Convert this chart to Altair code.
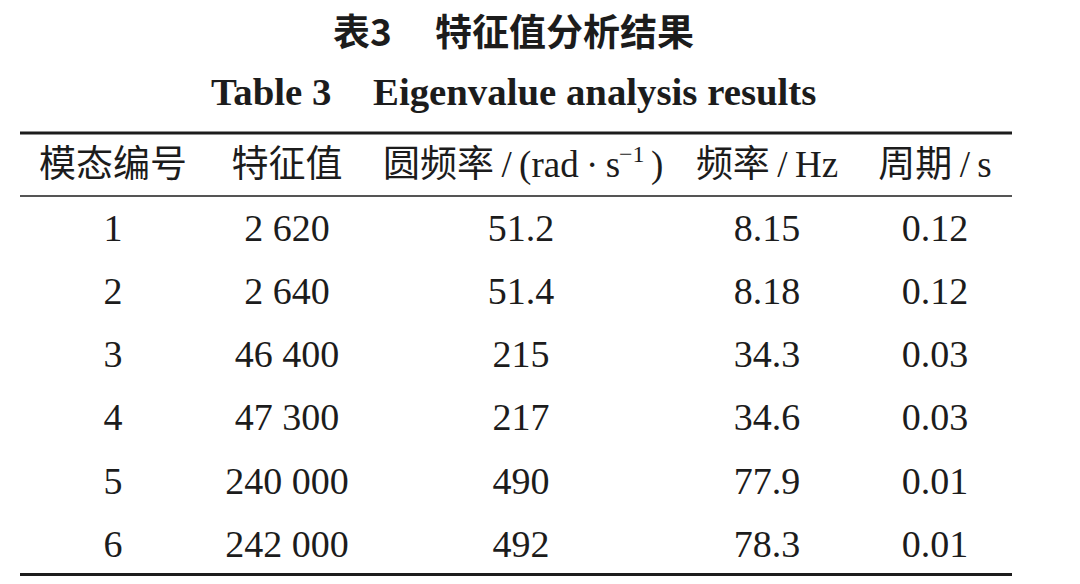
import altair as alt
import pandas as pd

# ---------------- data ----------------
title_cn = ["表3", "特征值分析结果"]
title_en = ["Table 3", "Eigenvalue analysis results"]
headers = ["模态编号", "特征值", "圆频率\u2009/\u2009(rad\u2009·\u2009s", "频率\u2009/\u2009Hz", "周期\u2009/\u2009s"]
header_sup = ["−1", ")"]
modes = [1, 2, 3, 4, 5, 6]
eigenvalues = [2620, 2640, 46400, 47300, 240000, 242000]
circular_freq = [51.2, 51.4, 215, 217, 490, 492]
frequency = [8.15, 8.18, 34.3, 34.6, 77.9, 78.3]
period = [0.12, 0.12, 0.03, 0.03, 0.01, 0.01]

# ---------------- layout (page pixels) ----------------
W, H = 1064, 568
COL_X = [113, 287, 521, 767, 935]
HEADER_Y = 166
ROW_Y = [230, 293, 356, 419, 483, 546]
RULE_X = (20, 1012)

SERIF = "Liberation Serif, Noto Sans CJK SC"
CJK = "Noto Sans CJK SC, Liberation Serif"
INK = "#1c1c1c"

xs = alt.Scale(domain=[8, 8 + W])
ys = alt.Scale(domain=[8, 8 + H], reverse=True)


def grp(n):
    return f"{n:,}".replace(",", " ")


cols = [
    [str(m) for m in modes],
    [grp(v) for v in eigenvalues],
    [str(v) for v in circular_freq],
    [str(v) for v in frequency],
    [f"{v:.2f}" for v in period],
]

cells = []
for ci, col in enumerate(cols):
    for ri, txt in enumerate(col):
        cells.append({"x": COL_X[ci], "y": ROW_Y[ri], "t": txt})
cells_df = pd.DataFrame(cells)

# header: centred cells, except the third which is assembled from pieces
head_df = pd.DataFrame({
    "x": [COL_X[0], COL_X[1], COL_X[3], COL_X[4]],
    "y": [HEADER_Y] * 4,
    "t": [headers[0], headers[1], headers[3], headers[4]],
})
head3_df = pd.DataFrame({"x": [383], "y": [HEADER_Y], "t": [headers[2]]})
sup_df = pd.DataFrame({"x": [619], "y": [155], "t": [header_sup[0]]})
paren_df = pd.DataFrame({"x": [651], "y": [HEADER_Y], "t": [header_sup[1]]})

tcn_df = pd.DataFrame({"x": [333, 435], "y": [35, 35], "t": title_cn})
ten_df = pd.DataFrame({"x": [211, 373], "y": [93, 93], "t": title_en})

rules_df = pd.DataFrame({
    "x": [RULE_X[0]] * 3,
    "x2": [RULE_X[1]] * 3,
    "y": [133, 196, 574.5],
    "w": [3.2, 1.6, 3.2],
})


def enc():
    return dict(
        x=alt.X("x:Q", scale=xs, axis=None),
        y=alt.Y("y:Q", scale=ys, axis=None),
        text="t:N",
    )


def txt(df, **kw):
    base = dict(font=SERIF, fontSize=37, color=INK, align="center", baseline="middle")
    base.update(kw)
    return alt.Chart(df).mark_text(**base).encode(**enc())


body = txt(cells_df, fontSize=38)
head = txt(head_df)
head3 = txt(head3_df, align="left")
sup = txt(sup_df, align="left", fontSize=24)
paren = txt(paren_df, align="left")
tcn = txt(tcn_df, font=CJK, fontWeight="bold", align="left")
ten = txt(ten_df, font="Liberation Serif", fontSize=38.8, fontWeight="bold", align="left")

rules = alt.Chart(rules_df).mark_rule(color=INK).encode(
    x=alt.X("x:Q", scale=xs, axis=None),
    x2="x2:Q",
    y=alt.Y("y:Q", scale=ys, axis=None),
    strokeWidth=alt.StrokeWidth("w:Q", scale=None, legend=None),
)

chart = (
    alt.layer(rules, tcn, ten, head, head3, sup, paren, body)
    .properties(width=W, height=H, padding=0, autosize=alt.AutoSizeParams(type="none"))
    .configure_view(strokeWidth=0, stroke="transparent")
)

chart.save("out.html", embed_options={"renderer": "svg", "actions": False})
